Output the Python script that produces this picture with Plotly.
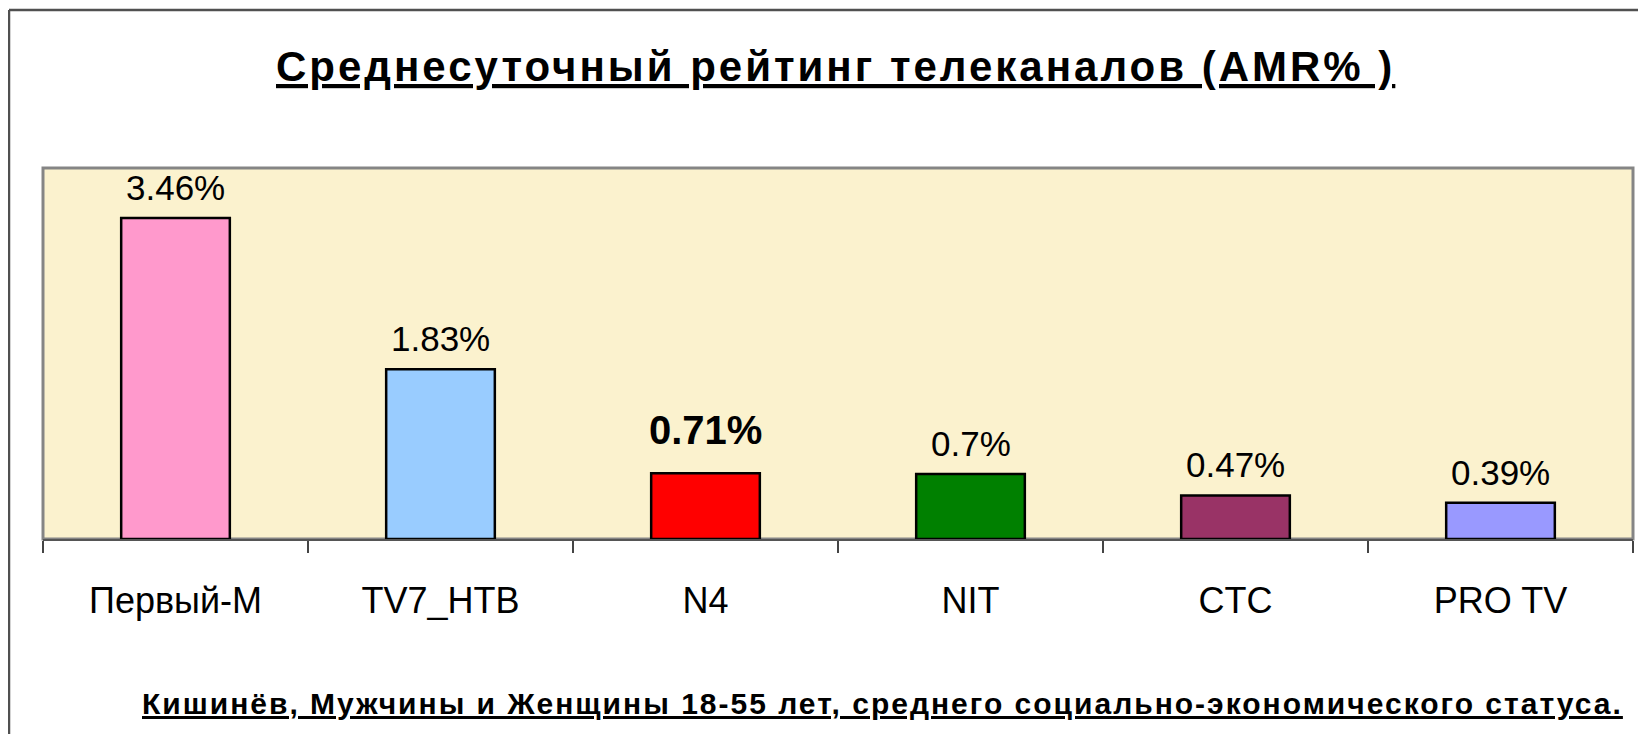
import plotly.graph_objects as go

# ---- data ----
channels = ["Первый-М", "TV7_HTB", "N4", "NIT", "CTC", "PRO TV"]
amr_values = [3.46, 1.83, 0.71, 0.70, 0.47, 0.39]
bar_colors = ["#FF99CC", "#99CCFF", "#FF0000", "#008000", "#993366", "#9999FF"]
title_text = "Среднесуточный рейтинг телеканалов (AMR% )"
footer_text = "Кишинёв, Мужчины и Женщины 18-55 лет, среднего социально-экономического статуса."
highlight_channel = "N4"

W, H = 1646, 734
OFF = 8  # page body margin offset of the rendered figure

# target positions in screen pixels
PLOT_LEFT, PLOT_RIGHT, PLOT_TOP, PLOT_BOTTOM = 43, 1633, 168, 539
L = PLOT_LEFT - OFF
R = W - (PLOT_RIGHT - OFF)
T = PLOT_TOP - OFF
B = H - (PLOT_BOTTOM - OFF)
PW, PH = W - L - R, H - T - B


def px_to_paper_x(px):
    return (px - OFF - L) / PW


def px_to_paper_y(py):
    return (H - B - (py - OFF)) / PH


FONT = "Liberation Sans, Arial, sans-serif"

fig = go.Figure()
fig.add_trace(go.Bar(
    x=channels,
    y=amr_values,
    marker=dict(color=bar_colors, line=dict(color="#000000", width=2.5)),
    hoverinfo="skip",
))

annotations = []
for ch, v in zip(channels, amr_values):
    hl = ch == highlight_channel
    label = f"{v:g}%"
    annotations.append(dict(
        x=ch, y=v, xref="x", yref="y",
        text=f"<b>{label}</b>" if hl else label,
        showarrow=False, yanchor="bottom", xanchor="center",
        yshift=19 if hl else 9,
        font=dict(family=FONT, size=40 if hl else 35, color="#000000"),
    ))

annotations.append(dict(
    x=px_to_paper_x(835), y=px_to_paper_y(66), xref="paper", yref="paper",
    text=f'<span style="text-decoration:underline;letter-spacing:3px">{title_text}</span>',
    showarrow=False, xanchor="center", yanchor="middle",
    font=dict(family=FONT, size=42, color="#000000", weight="bold"),
))
annotations.append(dict(
    x=px_to_paper_x(882), y=px_to_paper_y(703), xref="paper", yref="paper",
    text=f'<span style="text-decoration:underline;letter-spacing:2px">{footer_text}</span>',
    showarrow=False, xanchor="center", yanchor="middle",
    font=dict(family=FONT, size=30, color="#000000", weight="bold"),
))

shapes = [
    # plot area border
    dict(type="rect", xref="paper", yref="paper", x0=0, x1=1, y0=0, y1=1,
         line=dict(color="#858585", width=3), layer="below"),
    # outer frame (top and left)
    dict(type="line", xref="paper", yref="paper",
         x0=px_to_paper_x(9), x1=px_to_paper_x(1680),
         y0=px_to_paper_y(10), y1=px_to_paper_y(10),
         line=dict(color="#505050", width=2.5)),
    dict(type="line", xref="paper", yref="paper",
         x0=px_to_paper_x(9), x1=px_to_paper_x(9),
         y0=px_to_paper_y(10), y1=px_to_paper_y(780),
         line=dict(color="#505050", width=2.5)),
]

fig.update_layout(
    width=W, height=H,
    margin=dict(l=L, r=R, t=T, b=B, pad=0),
    paper_bgcolor="#FFFFFF",
    plot_bgcolor="#FBF2CE",
    showlegend=False,
    bargap=0.59,
    annotations=annotations,
    shapes=shapes,
    font=dict(family=FONT, color="#000000"),
)
fig.update_xaxes(
    showline=True, linecolor="#555555", linewidth=2,
    ticks="outside", tickson="boundaries", ticklen=12, tickcolor="#444444", tickwidth=1.5,
    tickfont=dict(family=FONT, size=36, color="#000000"),
    ticklabelstandoff=29,
    showgrid=False, zeroline=False, fixedrange=True,
)
fig.update_yaxes(
    range=[0, 4], visible=False, showgrid=False, zeroline=False, fixedrange=True,
)

fig.write_html("out.html")
